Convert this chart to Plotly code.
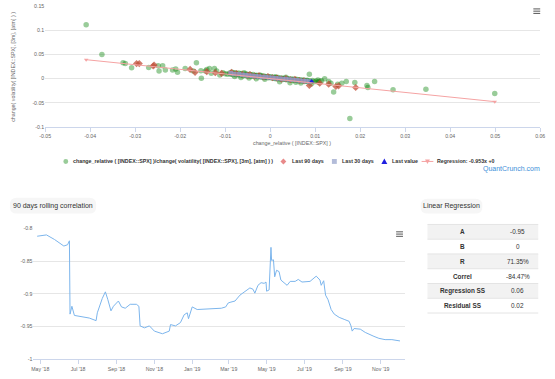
import plotly.graph_objects as go

# ---------------- DATA ----------------
# scatter: all observations (change_relative vs change(volatility))
green_x = [-0.0409, -0.0374, -0.0327, -0.0322, -0.0308, -0.0270, -0.0249, -0.0247, -0.0239, -0.0233,
           -0.0217, -0.0210, -0.0206, -0.0189, -0.0171, -0.0164, -0.0153, -0.0154, -0.0144, -0.0141,
           -0.0135, -0.0131, -0.0124, -0.0119, -0.0112, -0.0095, -0.0105, -0.0100,
           -0.0090, -0.0088, -0.0085, -0.0083, -0.0080, -0.0078, -0.0076, -0.0074, -0.0072, -0.0070,
           -0.0068, -0.0066, -0.0064, -0.0062, -0.0060, -0.0058, -0.0056, -0.0054, -0.0052, -0.0050,
           -0.0048, -0.0046, -0.0044, -0.0042, -0.0040, -0.0038, -0.0036, -0.0034, -0.0032, -0.0030,
           -0.0028, -0.0026, -0.0024, -0.0022, -0.0020, -0.0018, -0.0016, -0.0014, -0.0012, -0.0010,
           -0.0008, -0.0006, -0.0004, -0.0002, 0.0000, 0.0002, 0.0004, 0.0006, 0.0008, 0.0010,
           0.0012, 0.0014, 0.0016, 0.0018, 0.0020, 0.0022, 0.0024, 0.0026, 0.0028, 0.0030,
           0.0032, 0.0034, 0.0036, 0.0038, 0.0040, 0.0042, 0.0044, 0.0046, 0.0048, 0.0050,
           0.0052, 0.0054, 0.0056, 0.0058, 0.0060, 0.0062, 0.0064, 0.0066, 0.0068, 0.0070,
           0.0072, 0.0074, 0.0076, 0.0078, 0.0080, 0.0082, 0.0084, 0.0086, 0.0090, 0.0094,
           0.0098, 0.0102, 0.0106, 0.0110, 0.0087, 0.0106, 0.0114, 0.0121, 0.0130, 0.0135,
           0.0141, 0.0150, 0.0159, 0.0169, 0.0177, 0.0188, 0.0215, 0.0217, 0.0232, 0.0273,
           0.0346, 0.0499, -0.0065, -0.0047, -0.0031, -0.0012, 0.0021, 0.0044, 0.0057, 0.0035,
           -0.0058, -0.0022, 0.0012, 0.0068, -0.0079, 0.0091]
green_y = [0.1110, 0.0496, 0.0327, 0.0310, 0.0224, 0.0230, 0.0265, 0.0157, 0.0265, 0.0177,
           0.0177, 0.0198, 0.0129, 0.0210, 0.0157, 0.0327, 0.0007, 0.0163, 0.0157, 0.0190,
           0.0210, 0.0108, 0.0210, 0.0157, 0.0075, 0.0088, 0.0120, 0.0098,
           0.0115, 0.0092, 0.0130, 0.0080, 0.0108, 0.0122, 0.0075, 0.0100, 0.0086, 0.0115,
           0.0068, 0.0092, 0.0105, 0.0078, 0.0060, 0.0090, 0.0072, 0.0098, 0.0055, 0.0080,
           0.0065, 0.0088, 0.0050, 0.0072, 0.0060, 0.0082, 0.0042, 0.0065, 0.0053, 0.0070,
           0.0038, 0.0056, 0.0044, 0.0062, 0.0030, 0.0050, 0.0035, 0.0052, 0.0022, 0.0040,
           0.0028, 0.0045, 0.0015, 0.0032, 0.0022, 0.0038, 0.0010, 0.0025, 0.0005, 0.0020,
           -0.0002, 0.0015, 0.0002, 0.0022, -0.0010, 0.0008, -0.0005, 0.0012, -0.0018, 0.0000,
           -0.0012, 0.0005, -0.0025, -0.0008, -0.0020, -0.0002, -0.0030, -0.0014, -0.0026, -0.0010,
           -0.0038, -0.0020, -0.0032, -0.0016, -0.0045, -0.0028, -0.0040, -0.0022, -0.0050, -0.0035,
           -0.0046, -0.0030, -0.0058, -0.0040, -0.0052, -0.0035, -0.0065, -0.0046, -0.0058, -0.0042,
           -0.0068, -0.0050, -0.0072, -0.0055, 0.0088, -0.0027, -0.0047, -0.0006, -0.0061, -0.0096,
           -0.0279, -0.0116, -0.0096, -0.0061, -0.0823, -0.0082, -0.0143, -0.0184, -0.0061, -0.0231,
           -0.0218, -0.0306, 0.0022, 0.0012, -0.0005, -0.0015, -0.0065, -0.0085, -0.0078, 0.0030,
           0.0120, 0.0068, 0.0040, -0.0090, 0.0045, -0.0110]

# last 90 days
red_x = [-0.0297, -0.0291, -0.0260, -0.0258, -0.0178, -0.0167, -0.0141, -0.0122, -0.0108, -0.0086,
         -0.0075, -0.0062, -0.0050, -0.0045, -0.0035, -0.0025, -0.0015, -0.0005, 0.0005, 0.0015,
         0.0025, 0.0035, 0.0045, 0.0055, 0.0065, 0.0075, 0.0087, 0.0110, 0.0130, 0.0146,
         0.0152, 0.0190]
red_y = [0.0310, 0.0310, 0.0260, 0.0280, 0.0190, 0.0129, 0.0143, 0.0122, 0.0108, 0.0129,
         0.0105, 0.0090, 0.0068, 0.0082, 0.0050, 0.0060, 0.0032, 0.0042, 0.0018, 0.0010,
         -0.0010, 0.0000, -0.0025, -0.0018, -0.0040, -0.0045, -0.0143, -0.0096, -0.0116, -0.0163,
         -0.0150, -0.0184]

# last 30 days
sq_x = [-0.0088, -0.0080, -0.0070, -0.0062, -0.0055, -0.0048, -0.0040, -0.0032, -0.0025, -0.0018,
        -0.0010, -0.0003, 0.0005, 0.0012, 0.0020, 0.0028, 0.0035, 0.0042, 0.0050, 0.0058,
        0.0066, 0.0074, 0.0080, 0.0087]
sq_y = [0.0110, 0.0095, 0.0092, 0.0078, 0.0075, 0.0062, 0.0060, 0.0048, 0.0045, 0.0035,
        0.0032, 0.0022, 0.0016, 0.0008, 0.0004, -0.0008, -0.0010, -0.0020, -0.0025, -0.0035,
        -0.0038, -0.0048, -0.0050, -0.0058]

# last value
last_x = [0.0092]
last_y = [-0.0061]

# regression line  y = -0.953x + 0
reg_x = [-0.0409, 0.0499]
reg_y = [0.0390, -0.0476]

series_names = [
    "change_relative ( [INDEX::SPX] )/change( volatility( [INDEX::SPX], [3m], [atm] ) )",
    "Last 90 days", "Last 30 days", "Last value", "Regression: -0.953x +0",
]

scatter_xticks = [-0.05, -0.04, -0.03, -0.02, -0.01, 0, 0.01, 0.02, 0.03, 0.04, 0.05, 0.06]
scatter_xlabels = ["-0.05", "-0.04", "-0.03", "-0.02", "-0.01", "0", "0.01", "0.02", "0.03", "0.04", "0.05", "0.06"]
scatter_yticks = [-0.1, -0.05, 0, 0.05, 0.1, 0.15]
scatter_ylabels = ["-0.1", "-0.05", "0", "0.05", "0.1", "0.15"]

# 90 days rolling correlation
corr_dates = ["2018-04-26", "2018-05-11", "2018-05-24", "2018-06-01", "2018-06-08", "2018-06-14", "2018-06-17",
              "2018-06-18", "2018-06-21", "2018-06-25", "2018-07-06", "2018-07-19", "2018-07-30", "2018-08-01",
              "2018-08-09", "2018-08-14", "2018-08-18", "2018-08-23", "2018-08-27", "2018-09-04", "2018-09-09",
              "2018-09-15", "2018-09-23", "2018-10-03", "2018-10-07", "2018-10-09", "2018-10-16", "2018-10-24",
              "2018-11-01", "2018-11-14", "2018-11-25", "2018-11-27", "2018-12-05", "2018-12-13", "2018-12-19",
              "2018-12-24", "2018-12-26", "2019-01-01", "2019-01-09", "2019-01-22", "2019-02-07", "2019-02-17",
              "2019-02-24", "2019-02-28", "2019-03-03", "2019-03-11", "2019-03-19", "2019-03-30", "2019-04-04",
              "2019-04-09", "2019-04-12", "2019-04-17", "2019-04-22", "2019-04-27", "2019-04-30", "2019-05-01",
              "2019-05-05", "2019-05-08", "2019-05-09", "2019-05-12", "2019-05-14", "2019-05-17", "2019-05-21",
              "2019-05-24", "2019-05-29", "2019-06-03", "2019-06-08", "2019-06-16", "2019-06-21", "2019-06-27",
              "2019-07-10", "2019-07-15", "2019-07-20", "2019-07-26", "2019-07-28", "2019-08-01", "2019-08-04",
              "2019-08-08", "2019-08-13", "2019-08-18", "2019-08-26", "2019-09-03", "2019-09-11", "2019-09-14",
              "2019-09-16", "2019-09-19", "2019-09-29", "2019-10-07", "2019-10-15", "2019-10-21", "2019-10-29",
              "2019-11-08", "2019-11-19", "2019-12-02"]
corr_values = [-0.812, -0.810, -0.817, -0.822, -0.827, -0.825, -0.819,
               -0.931, -0.919, -0.933, -0.935, -0.937, -0.941, -0.929,
               -0.907, -0.897, -0.909, -0.926, -0.919, -0.911, -0.920,
               -0.922, -0.916, -0.916, -0.919, -0.949, -0.952, -0.949,
               -0.957, -0.961, -0.957, -0.947, -0.949, -0.944, -0.932,
               -0.929, -0.938, -0.920, -0.924, -0.923, -0.922, -0.922,
               -0.920, -0.914, -0.913, -0.911, -0.902, -0.894, -0.891,
               -0.893, -0.899, -0.887, -0.883, -0.884, -0.882, -0.896,
               -0.894, -0.829, -0.849, -0.848, -0.874, -0.864, -0.866,
               -0.879, -0.883, -0.887, -0.881, -0.881, -0.878, -0.882,
               -0.881, -0.877, -0.873, -0.879, -0.887, -0.880, -0.902,
               -0.909, -0.924, -0.931, -0.936, -0.939, -0.942, -0.949,
               -0.957, -0.953, -0.954, -0.959, -0.963, -0.965, -0.968,
               -0.970, -0.970, -0.972]
corr_yticks = [-1, -0.95, -0.9, -0.85, -0.8]
corr_ylabels = ["-1", "-0.95", "-0.9", "-0.85", "-0.8"]

# linear regression table
reg_labels = ["A", "B", "R", "Correl", "Regression SS", "Residual SS"]
reg_values = ["-0.95", "0", "71.35%", "-84.47%", "0.06", "0.02"]

# ---------------- LAYOUT HELPERS ----------------
W, H = 555, 379


def px(x):
    return x / W


def py(y):
    return 1 - y / H


FAM = "Liberation Sans, Arial, sans-serif"
TICK_FONT = dict(family=FAM, size=5.2, color="#666666")
GREEN = "rgba(0,128,0,0.4)"
RED = "rgba(192,80,58,0.75)"
SQ = "rgba(144,153,200,0.85)"
BLUE = "#1f1fe0"
PINK = "#f5a3a3"

fig = go.Figure()

fig.add_trace(go.Scatter(x=green_x, y=green_y, mode="markers", name=series_names[0],
                         marker=dict(color=GREEN, size=5.5, line=dict(width=0)), xaxis="x", yaxis="y"))
fig.add_trace(go.Scatter(x=red_x, y=red_y, mode="markers", name=series_names[1],
                         marker=dict(color=RED, size=5.5, symbol="diamond", line=dict(width=0)),
                         xaxis="x", yaxis="y"))
fig.add_trace(go.Scatter(x=sq_x, y=sq_y, mode="markers", name=series_names[2],
                         marker=dict(color=SQ, size=4.5, symbol="square", line=dict(width=0)),
                         xaxis="x", yaxis="y"))
fig.add_trace(go.Scatter(x=last_x, y=last_y, mode="markers", name=series_names[3],
                         marker=dict(color=BLUE, size=5, symbol="triangle-up", line=dict(width=0)),
                         xaxis="x", yaxis="y"))
fig.add_trace(go.Scatter(x=reg_x, y=reg_y, mode="lines+markers", name=series_names[4],
                         line=dict(color=PINK, width=1),
                         marker=dict(color=PINK, size=4, symbol="triangle-down"),
                         xaxis="x", yaxis="y"))

fig.add_trace(go.Scatter(x=corr_dates, y=corr_values, mode="lines", name="corr",
                         line=dict(color="#7cb5ec", width=1), xaxis="x2", yaxis="y2"))

fig.update_layout(
    width=W, height=H, autosize=False,
    margin=dict(l=0, r=0, t=0, b=0),
    paper_bgcolor="white", plot_bgcolor="white",
    showlegend=False,
    font=dict(family=FAM, color="#333333"),
    xaxis=dict(domain=[px(40), px(545)], range=[-0.05, 0.06],
               tickmode="array", tickvals=scatter_xticks, ticktext=scatter_xlabels,
               showgrid=False, zeroline=False, showline=True, linecolor="#ccd6eb", linewidth=1,
               ticks="outside", ticklen=4, tickcolor="#ccd6eb", tickfont=TICK_FONT, anchor="y"),
    yaxis=dict(domain=[py(126), py(3)], range=[-0.1, 0.15],
               tickmode="array", tickvals=scatter_yticks, ticktext=scatter_ylabels,
               showgrid=True, gridcolor="#e6e6e6", gridwidth=1, zeroline=False, showline=False,
               tickfont=TICK_FONT, anchor="x"),
    xaxis2=dict(domain=[px(28), px(407)], range=["2018-04-20", "2019-12-10"], type="date",
                dtick="M2", tick0="2018-05-01", tickformat="%b '%y",
                showgrid=False, zeroline=False, showline=True, linecolor="#ccd6eb", linewidth=1,
                ticks="outside", ticklen=4, tickcolor="#ccd6eb", tickfont=TICK_FONT, anchor="y2"),
    yaxis2=dict(domain=[py(362), py(229)], range=[-1, -0.8],
                tickmode="array", tickvals=corr_yticks, ticktext=corr_ylabels,
                showgrid=True, gridcolor="#e6e6e6", gridwidth=1, zeroline=False, showline=False,
                tickfont=TICK_FONT, anchor="x2"),
)

ann = []
shapes = []
# axis titles
ann.append(dict(x=px(292), y=py(142), xref="paper", yref="paper", text="change_relative ( [INDEX::SPX] )",
                showarrow=False, font=dict(family=FAM, size=5.3, color="#666666"),
                xanchor="center", yanchor="middle"))
ann.append(dict(x=px(7), y=py(65), xref="paper", yref="paper",
                text="change( volatility( [INDEX::SPX], [3m], [atm] ) )",
                showarrow=False, font=dict(family=FAM, size=5.3, color="#666666"),
                textangle=-90, xanchor="center", yanchor="middle"))

# manual legend
LEG_Y = 161
LFONT = dict(family=FAM, size=5.3, color="#333333")
shapes.append(dict(type="circle", xref="paper", yref="paper", x0=px(58.5), x1=px(63.5),
                   y0=py(LEG_Y + 2.5), y1=py(LEG_Y - 2.5), fillcolor=GREEN, line=dict(width=0)))
ann.append(dict(x=px(66.5), y=py(LEG_Y), xref="paper", yref="paper", text="<b>" + series_names[0] + "</b>",
                showarrow=False, font=LFONT, xanchor="left", yanchor="middle"))
cx = 283
shapes.append(dict(type="path", xref="paper", yref="paper",
                   path=f"M {px(cx)} {py(LEG_Y-3)} L {px(cx+3)} {py(LEG_Y)} L {px(cx)} {py(LEG_Y+3)} L {px(cx-3)} {py(LEG_Y)} Z",
                   fillcolor="#e88a8a", line=dict(width=0)))
ann.append(dict(x=px(289.5), y=py(LEG_Y), xref="paper", yref="paper", text="<b>" + series_names[1] + "</b>",
                showarrow=False, font=LFONT, xanchor="left", yanchor="middle"))
shapes.append(dict(type="rect", xref="paper", yref="paper", x0=px(332.5), x1=px(337.5),
                   y0=py(LEG_Y + 2.5), y1=py(LEG_Y - 2.5), fillcolor="#b3bcd9", line=dict(width=0)))
ann.append(dict(x=px(340.5), y=py(LEG_Y), xref="paper", yref="paper", text="<b>" + series_names[2] + "</b>",
                showarrow=False, font=LFONT, xanchor="left", yanchor="middle"))
cx = 386
shapes.append(dict(type="path", xref="paper", yref="paper",
                   path=f"M {px(cx)} {py(LEG_Y-3)} L {px(cx+3)} {py(LEG_Y+2.5)} L {px(cx-3)} {py(LEG_Y+2.5)} Z",
                   fillcolor=BLUE, line=dict(width=0)))
ann.append(dict(x=px(391.5), y=py(LEG_Y), xref="paper", yref="paper", text="<b>" + series_names[3] + "</b>",
                showarrow=False, font=LFONT, xanchor="left", yanchor="middle"))
shapes.append(dict(type="line", xref="paper", yref="paper", x0=px(424), x1=px(436),
                   y0=py(LEG_Y), y1=py(LEG_Y), line=dict(color=PINK, width=1)))
cx = 430
shapes.append(dict(type="path", xref="paper", yref="paper",
                   path=f"M {px(cx-2.5)} {py(LEG_Y-2)} L {px(cx+2.5)} {py(LEG_Y-2)} L {px(cx)} {py(LEG_Y+2.5)} Z",
                   fillcolor=PINK, line=dict(width=0)))
ann.append(dict(x=px(437.5), y=py(LEG_Y), xref="paper", yref="paper", text="<b>" + series_names[4] + "</b>",
                showarrow=False, font=LFONT, xanchor="left", yanchor="middle"))

# credit
ann.append(dict(x=px(547), y=py(168.5), xref="paper", yref="paper", text="QuantCrunch.com",
                showarrow=False, font=dict(family=FAM, size=7, color="#3d8fd9"),
                xanchor="right", yanchor="middle"))


# title pills
def pill(x0, y0, x1, y1, r):
    return (f"M {px(x0+r)} {py(y0)} L {px(x1-r)} {py(y0)} Q {px(x1)} {py(y0)} {px(x1)} {py(y0+r)} "
            f"L {px(x1)} {py(y1-r)} Q {px(x1)} {py(y1)} {px(x1-r)} {py(y1)} "
            f"L {px(x0+r)} {py(y1)} Q {px(x0)} {py(y1)} {px(x0)} {py(y1-r)} "
            f"L {px(x0)} {py(y0+r)} Q {px(x0)} {py(y0)} {px(x0+r)} {py(y0)} Z")


shapes.append(dict(type="path", xref="paper", yref="paper", path=pill(4, 198, 92, 214, 7),
                   fillcolor="#f6f6f6", line=dict(width=0), layer="below"))
shapes.append(dict(type="path", xref="paper", yref="paper", path=pill(423, 199, 486, 214, 7),
                   fillcolor="#f6f6f6", line=dict(width=0), layer="below"))
TITLE_FONT = dict(family=FAM, size=7, color="#333333")
ann.append(dict(x=px(48), y=py(206), xref="paper", yref="paper", text="90 days rolling correlation",
                showarrow=False, font=TITLE_FONT, xanchor="center", yanchor="middle"))
ann.append(dict(x=px(454.5), y=py(206.5), xref="paper", yref="paper", text="Linear Regression",
                showarrow=False, font=TITLE_FONT, xanchor="center", yanchor="middle"))

# regression table, drawn by hand (rows of 15px)
T_X0, T_X1, T_Y0, ROW_H = 430, 543, 225, 15
for i, (lab, val) in enumerate(zip(reg_labels, reg_values)):
    top = T_Y0 + i * ROW_H
    fill = "#f2f2f2" if i % 2 == 0 else "#ffffff"
    shapes.append(dict(type="rect", xref="paper", yref="paper", x0=px(T_X0), x1=px(T_X1),
                       y0=py(top + ROW_H), y1=py(top), fillcolor=fill, line=dict(width=0), layer="below"))
    shapes.append(dict(type="line", xref="paper", yref="paper", x0=px(T_X0), x1=px(T_X1),
                       y0=py(top), y1=py(top), line=dict(color="#e4e4e4", width=1)))
    ann.append(dict(x=px(466), y=py(top + ROW_H / 2), xref="paper", yref="paper", text="<b>" + lab + "</b>",
                    showarrow=False, font=dict(family=FAM, size=6.4, color="#333333"),
                    xanchor="center", yanchor="middle"))
    ann.append(dict(x=px(522), y=py(top + ROW_H / 2), xref="paper", yref="paper", text=val,
                    showarrow=False, font=dict(family=FAM, size=6.4, color="#333333"),
                    xanchor="center", yanchor="middle"))
shapes.append(dict(type="line", xref="paper", yref="paper", x0=px(T_X0), x1=px(T_X1),
                   y0=py(T_Y0 + len(reg_labels) * ROW_H), y1=py(T_Y0 + len(reg_labels) * ROW_H),
                   line=dict(color="#e4e4e4", width=1)))

# hamburger menu icons
for (hx, hy) in [(538, 6), (398, 232.5)]:
    for k in range(3):
        shapes.append(dict(type="line", xref="paper", yref="paper", x0=px(hx), x1=px(hx + 7),
                           y0=py(hy + 2.3 * k), y1=py(hy + 2.3 * k), line=dict(color="#666666", width=1.1)))

fig.update_layout(annotations=ann, shapes=shapes)

fig.write_html("out.html", config={"displayModeBar": False},
               post_script="document.body.style.margin='0px';document.body.style.overflow='hidden';")
